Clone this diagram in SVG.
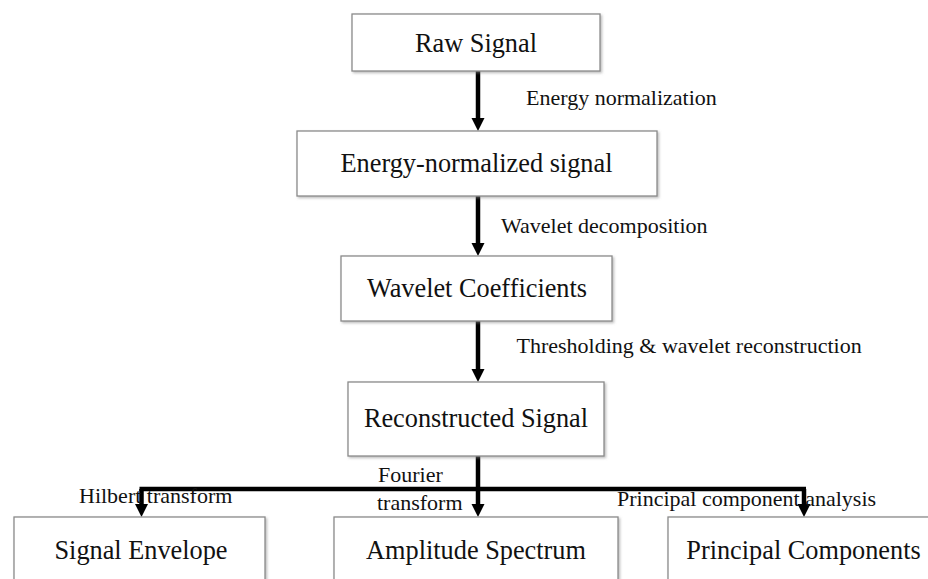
<svg xmlns="http://www.w3.org/2000/svg" width="928" height="579" viewBox="0 0 928 579">
  <style>
    .box { fill: #ffffff; stroke: #8a8a8a; stroke-width: 1.3; filter: url(#shadow); }
    .title { font-family: "Liberation Serif", "Times New Roman", serif; font-size: 26.3px; fill: #111; text-anchor: middle; }
    .label { font-family: "Liberation Serif", "Times New Roman", serif; font-size: 22px; fill: #111; }
    .wire { fill: none; stroke: #000; stroke-width: 4.5; }
    .arrow { fill: none; stroke: #000; stroke-width: 4.5; marker-end: url(#head); }
  </style>
  <defs>
    <filter id="shadow" x="-5%" y="-5%" width="115%" height="125%">
      <feDropShadow dx="1.5" dy="1.5" stdDeviation="1" flood-color="#888" flood-opacity="0.55"/>
    </filter>
    <marker id="head" markerUnits="userSpaceOnUse" markerWidth="14" markerHeight="14" viewBox="0 -7 13 14" refX="0" refY="0" orient="auto">
      <path d="M0,-6.5 L13,0 L0,6.5 z" fill="#000"/>
    </marker>
  </defs>

  <rect width="928" height="579" fill="#ffffff"/>

  <!-- connectors -->
  <g id="connectors">
    <path class="arrow" d="M478,71 V118"/>
    <path class="arrow" d="M478,196 V243"/>
    <path class="arrow" d="M478,321 V369"/>
    <path class="arrow" d="M478,456 V504"/>
    <path class="wire" d="M139.5,489 H806"/>
    <path class="arrow" d="M141.5,489 V504"/>
    <path class="arrow" d="M804,489 V504"/>
  </g>

  <!-- edge labels -->
  <g id="edge-labels">
    <text class="label" x="526" y="105">Energy normalization</text>
    <text class="label" x="501" y="233">Wavelet decomposition</text>
    <text class="label" x="516.5" y="353">Thresholding &amp; wavelet reconstruction</text>
    <text class="label" x="378" y="482">Fourier</text>
    <text class="label" x="377" y="510">transform</text>
    <text class="label" x="79" y="503">Hilbert transform</text>
    <text class="label" x="617" y="506">Principal component analysis</text>
  </g>

  <g id="raw-signal">
    <rect class="box" x="352" y="14" width="248" height="57"/>
    <text class="title" x="476" y="52">Raw Signal</text>
  </g>

  <g id="energy-normalized">
    <rect class="box" x="297" y="131" width="360" height="65"/>
    <text class="title" x="476.5" y="172">Energy-normalized signal</text>
  </g>

  <g id="wavelet-coefficients">
    <rect class="box" x="341" y="256" width="271" height="65"/>
    <text class="title" x="477" y="297">Wavelet Coefficients</text>
  </g>

  <g id="reconstructed-signal">
    <rect class="box" x="348" y="382" width="256" height="74"/>
    <text class="title" x="476" y="427">Reconstructed Signal</text>
  </g>

  <g id="signal-envelope">
    <rect class="box" x="14" y="517" width="251" height="90"/>
    <text class="title" x="141" y="559">Signal Envelope</text>
  </g>

  <g id="amplitude-spectrum">
    <rect class="box" x="334" y="517" width="284" height="90"/>
    <text class="title" x="476" y="559">Amplitude Spectrum</text>
  </g>

  <g id="principal-components">
    <rect class="box" x="668" y="517" width="280" height="90"/>
    <text class="title" x="803.5" y="559">Principal Components</text>
  </g>
</svg>
